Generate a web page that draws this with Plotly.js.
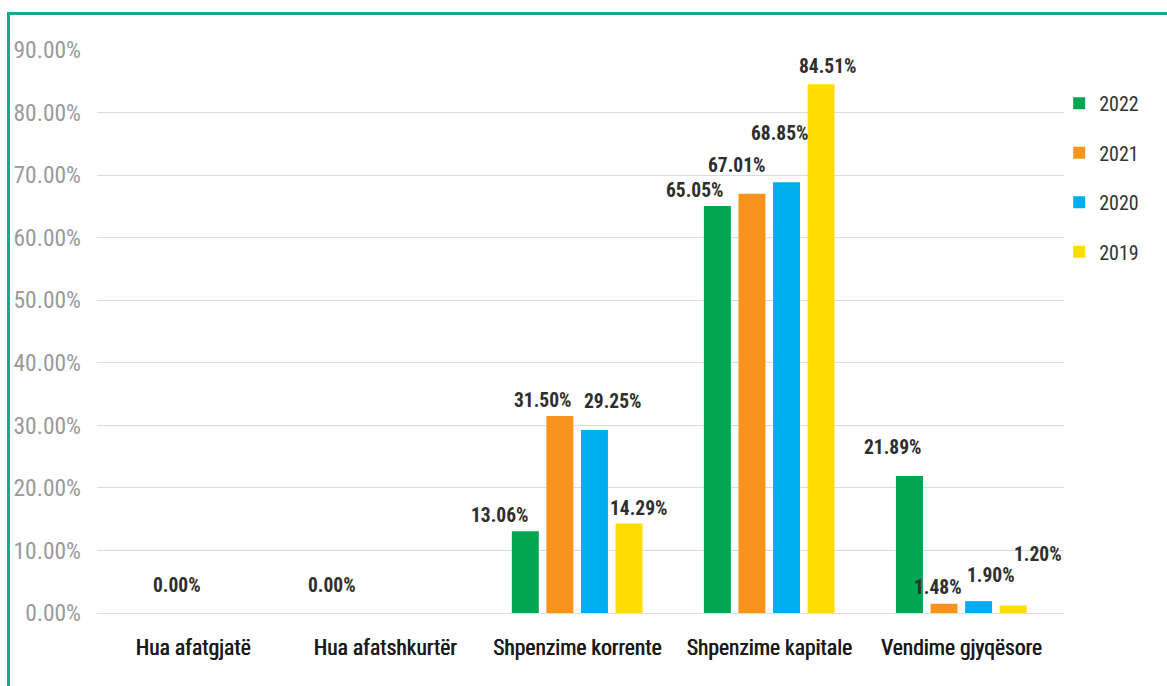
<!DOCTYPE html>
<html>
<head>
<meta charset="utf-8">
<script src="https://cdn.plot.ly/plotly-3.0.1.min.js"></script>
<style>
  html, body { margin:0; padding:0; background:#fff; }
  #wrap { position:relative; width:1167px; height:686px; overflow:hidden; }
  #chart { position:absolute; left:0; top:0; width:1167px; height:686px; }
  #frame { position:absolute; left:7px; top:12px; width:2000px; height:2000px;
           border-top:3px solid #16a98b; border-left:3px solid #16a98b; pointer-events:none; }
</style>
</head>
<body>
<div id="wrap"><div id="chart"></div><div id="frame"></div></div>
<script>
// ---- data ----
const categories = ["Hua afatgjatë", "Hua afatshkurtër", "Shpenzime korrente", "Shpenzime kapitale", "Vendime gjyqësore"];
const seriesNames = ["2022", "2021", "2020", "2019"];
const v2022 = [0.00, 0.00, 13.06, 65.05, 21.89];
const v2021 = [0.00, 0.00, 31.50, 67.01, 1.48];
const v2020 = [0.00, 0.00, 29.25, 68.85, 1.90];
const v2019 = [0.00, 0.00, 14.29, 84.51, 1.20];
const yTicks = [0, 10, 20, 30, 40, 50, 60, 70, 80, 90];

// ---- styling / label placement (not data) ----
const colors = ["#00A651", "#F7941D", "#00AEEF", "#FFDD00"];
const series = [v2022, v2021, v2020, v2019];
const slot = 34.8; // px per bar slot
// label nudges [dx, dy] per series per category, null = label hidden
const labelNudge = [
  [[36.5,28],[-0.5,28],[-25,16],[-22,16],[-16,28.5]],
  [null,null,[-17,15],[-14.5,28.5],[-6,16.5]],
  [null,null,[18,29],[-6.5,49],[12,26]],
  [null,null,[10,15],[6.5,17.5],[24.5,50.5]]
];
const condensed = "'Roboto Condensed', 'Roboto', sans-serif";

const traces = series.map((vals, i) => ({
  type: 'bar',
  name: seriesNames[i],
  x: categories,
  y: vals,
  marker: { color: colors[i] },
  legendgroup: seriesNames[i],
  hoverinfo: 'x+y+name'
}));

const annotations = [];
series.forEach((vals, i) => {
  vals.forEach((v, j) => {
    const n = labelNudge[i][j];
    if (!n) return;
    annotations.push({
      xref: 'x', yref: 'y', x: categories[j], y: v,
      xshift: (i - 1.5) * slot + n[0], yshift: n[1],
      text: v.toFixed(2) + '%', showarrow: false,
      xanchor: 'center', yanchor: 'middle',
      font: { family: condensed, size: 19.5, color: '#2e2e2e', weight: 'bold' }
    });
  });
});

const layout = {
  width: 1167, height: 686,
  margin: { l: 97, r: 103, t: 50, b: 73 },
  paper_bgcolor: '#ffffff', plot_bgcolor: '#ffffff',
  barmode: 'group', bargap: 0.28, bargroupgap: 0.22,
  showlegend: true,
  legend: {
    x: 0.995, xanchor: 'left', y: 0.94, yanchor: 'top',
    traceorder: 'grouped', tracegroupgap: 20.5,
    font: { family: condensed, size: 20, color: '#333333' },
    bgcolor: 'rgba(0,0,0,0)'
  },
  xaxis: {
    type: 'category', showgrid: false, zeroline: false, showline: false, ticks: '',
    tickangle: 0,
    tickfont: { family: condensed, size: 21.5, color: '#1a1a1a', shadow: '0.6px 0 0 #1a1a1a' },
    ticklabelstandoff: 19, fixedrange: true
  },
  yaxis: {
    range: [0, 90], tickvals: yTicks, ticktext: yTicks.map(t => t.toFixed(2) + '%'),
    showgrid: true, gridcolor: '#dcdcdc', gridwidth: 1,
    zeroline: true, zerolinecolor: '#dcdcdc', zerolinewidth: 1,
    showline: false, ticks: '',
    tickfont: { family: condensed, size: 23.5, color: '#9a9a9a' },
    ticklabelstandoff: 15, fixedrange: true
  },
  annotations: annotations
};

Plotly.newPlot('chart', traces, layout, { displayModeBar: false, staticPlot: true });
</script>
</body>
</html>
